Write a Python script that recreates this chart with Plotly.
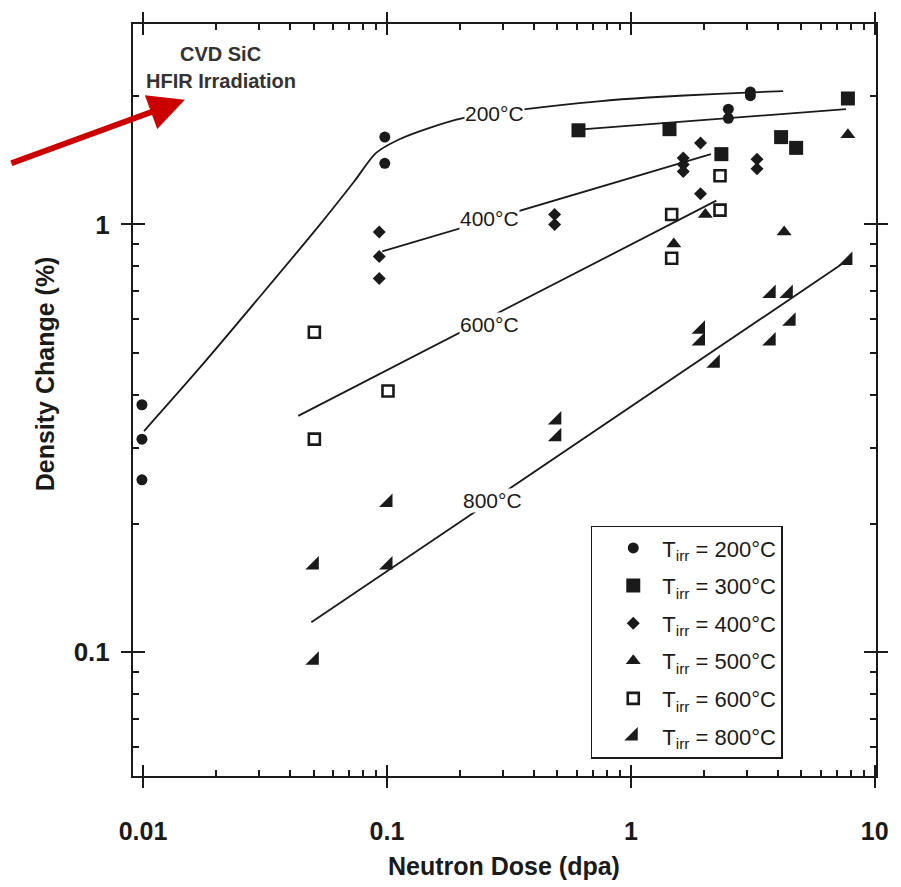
import plotly.graph_objects as go

# ---------------- data ----------------
t200_x = [0.0099, 0.0099, 0.0099, 0.098, 0.098, 3.09, 3.09, 2.51, 2.51]
t200_y = [0.379, 0.315, 0.253, 1.60, 1.39, 2.04, 2.00, 1.86, 1.77]

t300_x = [0.61, 1.44, 2.35, 4.13, 4.76, 7.76]
t300_y = [1.66, 1.67, 1.46, 1.60, 1.51, 1.97]

t400_x = [0.093, 0.093, 0.093, 0.487, 0.487, 1.64, 1.64, 1.64, 1.93, 1.93, 3.29, 3.29]
t400_y = [0.96, 0.842, 0.748, 1.055, 1.0, 1.43, 1.38, 1.33, 1.55, 1.18, 1.42, 1.35]

t500_x = [1.50, 2.02, 4.25, 7.76]
t500_y = [0.90, 1.055, 0.96, 1.62]

t600_x = [0.0504, 0.0504, 0.101, 1.47, 1.47, 2.32, 2.32]
t600_y = [0.56, 0.315, 0.408, 1.055, 0.834, 1.30, 1.08]

t800_x = [0.0504, 0.0504, 0.101, 0.101, 0.497, 0.497, 1.93, 1.93, 2.22, 3.76, 4.42, 4.54, 3.76, 7.76]
t800_y = [0.160, 0.0958, 0.224, 0.160, 0.349, 0.319, 0.569, 0.534, 0.474, 0.690, 0.690, 0.594, 0.534, 0.824]

fit200_x = [0.0101, 0.01706, 0.030, 0.0528, 0.0734, 0.0903, 0.112, 0.1486, 0.203, 0.371, 0.738, 1.18, 2.28, 4.21]
fit200_y = [0.329, 0.462, 0.676, 0.995, 1.26, 1.47, 1.58, 1.68, 1.77, 1.86, 1.94, 1.98, 2.02, 2.05]
fit300_x = [0.61, 7.62]
fit300_y = [1.665, 1.86]
fit400_x = [0.0957, 2.13]
fit400_y = [0.865, 1.46]
fit600_x = [0.0433, 2.24]
fit600_y = [0.357, 1.137]
fit800_x = [0.049, 7.62]
fit800_y = [0.1175, 0.82]

fit_labels = ["200°C", "400°C", "600°C", "800°C"]
legend_names = ["T<sub>irr</sub> = 200°C", "T<sub>irr</sub> = 300°C", "T<sub>irr</sub> = 400°C",
                "T<sub>irr</sub> = 500°C", "T<sub>irr</sub> = 600°C", "T<sub>irr</sub> = 800°C"]
x_ticks = [0.01, 0.1, 1, 10]
x_ticktext = ["0.01", "0.1", "1", "10"]
y_ticks = [0.1, 1]
y_ticktext = ["0.1", "1"]

# ---------------- figure ----------------
FONT = "Liberation Sans, Arial, sans-serif"
INK = "#1a1a1a"
W, H = 901, 887
L, R, T, B = 133, 23, 22, 111
PW, PH = W - L - R, H - T - B


def px2paper(px, py):
    return (px - L) / PW, (H - B - py) / PH


fig = go.Figure()

line_style = dict(color=INK, width=1.8)
for fx, fy, shp in [(fit200_x, fit200_y, "spline"), (fit300_x, fit300_y, "linear"),
                    (fit400_x, fit400_y, "linear"), (fit600_x, fit600_y, "linear"),
                    (fit800_x, fit800_y, "linear")]:
    fig.add_trace(go.Scatter(x=fx, y=fy, mode="lines", line=dict(shape=shp, smoothing=0.8, **line_style),
                             showlegend=False, hoverinfo="skip"))

series = [
    (t200_x, t200_y, "circle", 11, dict(width=0)),
    (t300_x, t300_y, "square", 14, dict(width=0)),
    (t400_x, t400_y, "diamond", 10, dict(width=0)),
    (t500_x, t500_y, "triangle-up", 13, dict(width=0)),
    (t600_x, t600_y, "square-open", 11, dict(width=2.6, color=INK)),
    (t800_x, t800_y, "triangle-se", 15, dict(width=0)),
]
for i, (sx, sy, sym, sz, ln) in enumerate(series):
    fig.add_trace(go.Scatter(x=sx, y=sy, mode="markers", name=legend_names[i],
                             legendgroup=f"g{i}",
                             marker=dict(symbol=sym, size=sz, color=INK, line=ln)))

# overlay axes carry the inner half of the crossing major ticks and the minor ticks
fig.add_trace(go.Scatter(x=[None], y=[None], xaxis="x2", yaxis="y2", showlegend=False))

x_minor = [m * 10 ** e for e in (-2, -1, 0) for m in range(2, 10)]
y_minor = [0.06, 0.07, 0.08, 0.09] + [m / 10 for m in range(2, 10)] + [2]

xr = [-2.041, 1.005]
yr = [-1.289, 0.4685]

axis_common = dict(type="log", showgrid=False, zeroline=False, showline=True, linecolor=INK,
                   linewidth=2, tickcolor=INK, tickwidth=2, mirror="ticks")
fig.update_layout(
    width=W, height=H, margin=dict(l=L, r=R, t=T, b=B),
    paper_bgcolor="white", plot_bgcolor="white",
    xaxis=dict(range=xr, tickmode="array", tickvals=x_ticks, ticktext=x_ticktext,
               ticks="outside", ticklen=10, ticklabelstandoff=22,
               tickfont=dict(family=FONT, size=25, color=INK, weight="bold"), **axis_common),
    yaxis=dict(range=yr, tickmode="array", tickvals=y_ticks, ticktext=y_ticktext,
               ticks="outside", ticklen=10, ticklabelstandoff=6,
               tickfont=dict(family=FONT, size=26, color=INK, weight="bold"), **axis_common),
    xaxis2=dict(range=xr, overlaying="x", anchor="y2", side="bottom", tickmode="array",
                tickvals=x_ticks, ticks="inside", ticklen=11, showticklabels=False,
                minor=dict(tickmode="array", tickvals=x_minor, ticks="inside", ticklen=6,
                           tickwidth=1.5, tickcolor=INK),
                **axis_common),
    yaxis2=dict(range=yr, overlaying="y", anchor="x2", side="left", tickmode="array",
                tickvals=y_ticks, ticks="inside", ticklen=12, showticklabels=False,
                minor=dict(tickmode="array", tickvals=y_minor, ticks="inside", ticklen=6,
                           tickwidth=1.5, tickcolor=INK),
                **axis_common),
    legend=dict(x=px2paper(592, 0)[0], y=px2paper(0, 525)[1], xanchor="left", yanchor="top",
                bgcolor="white", bordercolor=INK, borderwidth=1.5,
                font=dict(family=FONT, size=22, color=INK), tracegroupgap=6,
                itemwidth=48, indentation=12, traceorder="grouped"),
    showlegend=True,
)

ann = []
# fit curve labels
for txt, (cx, cy) in zip(fit_labels, [(495, 112), (490, 217), (490, 323), (493, 500)]):
    px_, py_ = px2paper(cx, cy)
    ann.append(dict(x=px_, y=py_, xref="paper", yref="paper", text=txt, showarrow=False,
                    font=dict(family=FONT, size=21, color=INK), bgcolor="white",
                    xanchor="center", yanchor="middle", borderpad=0))
# header text
for txt, cy in [("CVD SiC", 52), ("HFIR Irradiation", 79)]:
    px_, py_ = px2paper(221, cy)
    ann.append(dict(x=px_, y=py_, xref="paper", yref="paper", text=txt, showarrow=False,
                    font=dict(family=FONT, size=20, color="#333333", weight="bold"),
                    xanchor="center", yanchor="middle"))
# axis titles
px_, py_ = px2paper(505, 866)
ann.append(dict(x=px_, y=py_, xref="paper", yref="paper", text="Neutron Dose (dpa)", showarrow=False,
                font=dict(family=FONT, size=25, color=INK, weight="bold"), xanchor="center", yanchor="middle"))
px_, py_ = px2paper(45, 373)
ann.append(dict(x=px_, y=py_, xref="paper", yref="paper", text="Density Change (%)", showarrow=False,
                textangle=-90, font=dict(family=FONT, size=25, color=INK, weight="bold"),
                xanchor="center", yanchor="middle"))
# red arrow
tipx, tipy = px2paper(185, 98)
ann.append(dict(x=tipx, y=tipy, xref="paper", yref="paper", text="", showarrow=True,
                ax=10 - 185, ay=162 - 98, arrowcolor="#cc0000", arrowwidth=6, arrowhead=2,
                arrowsize=1.2))
fig.update_layout(annotations=ann)

fig.write_html("out.html")
